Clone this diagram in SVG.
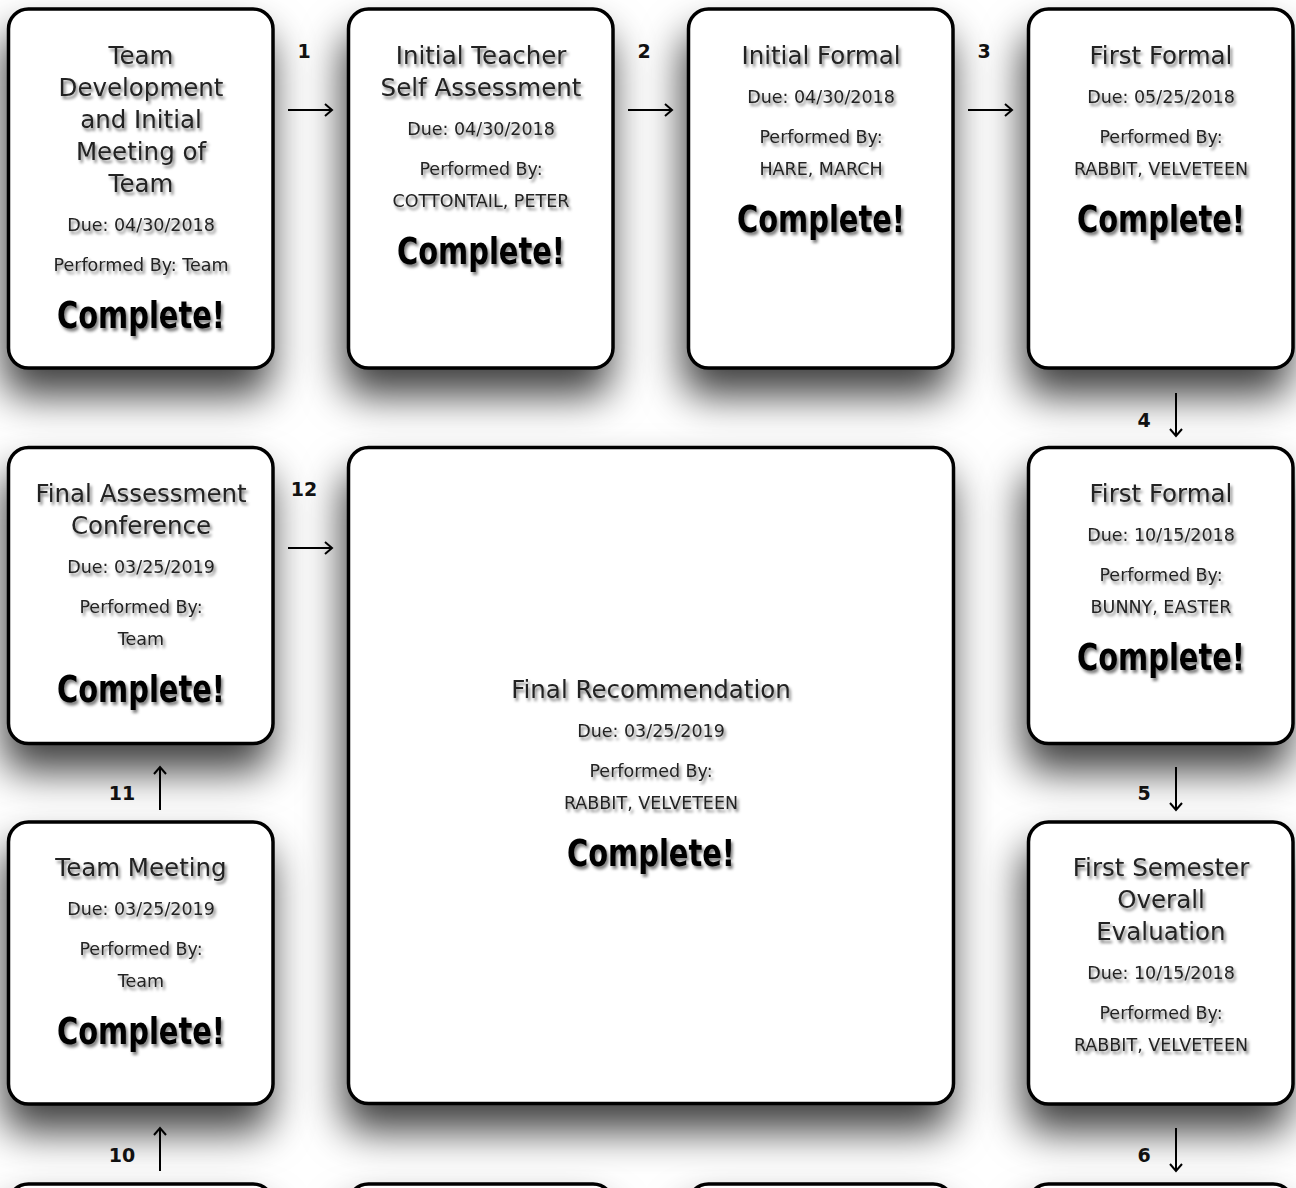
<svg xmlns="http://www.w3.org/2000/svg" width="1296" height="1188" viewBox="0 0 1296 1188">
<defs>
<filter id="cardShadow" x="-35%" y="-35%" width="170%" height="190%">
<feDropShadow dx="-4" dy="26" stdDeviation="20" flood-color="#000" flood-opacity="0.75"/>
</filter>
<filter id="txtShadow" x="-10%" y="-30%" width="120%" height="180%">
<feGaussianBlur in="SourceAlpha" stdDeviation="1.4" result="b"/>
<feOffset in="b" dx="2" dy="3" result="o"/>
<feFlood flood-color="#000" flood-opacity="0.5"/>
<feComposite in2="o" operator="in" result="s"/>
<feMerge><feMergeNode in="s"/><feMergeNode in="SourceGraphic"/></feMerge>
</filter>
<marker id="head" markerWidth="12" markerHeight="14" refX="10" refY="7" orient="auto" markerUnits="userSpaceOnUse">
<path d="M3,1 L10,7 L3,13" fill="none" stroke="#000" stroke-width="2"/>
</marker>
<style>
.card{fill:#fff;stroke:#000;stroke-width:3.5;filter:url(#cardShadow)}
.t{font-family:"DejaVu Sans","Liberation Sans",sans-serif;fill:#222;text-anchor:middle;filter:url(#txtShadow)}
.title{font-size:24.5px}
.det{font-size:17.5px}
.done{font-family:"DejaVu Sans Condensed","Liberation Sans Narrow",sans-serif;font-weight:bold;font-size:38px;fill:#000;text-anchor:middle;filter:url(#txtShadow)}
.num{font-family:"DejaVu Sans","Liberation Sans",sans-serif;font-weight:bold;font-size:19px;fill:#111;text-anchor:middle}
.arr{stroke:#000;stroke-width:2;fill:none;marker-end:url(#head)}
</style>
</defs>
<rect width="1296" height="1188" fill="#fff"/>

<g id="node-bottom1"><rect class="card" x="8.5" y="1184" width="264.5" height="300" rx="20"/></g>
<g id="node-bottom2"><rect class="card" x="348.5" y="1184" width="264.5" height="300" rx="20"/></g>
<g id="node-bottom3"><rect class="card" x="688.5" y="1184" width="264.5" height="300" rx="20"/></g>
<g id="node-bottom4"><rect class="card" x="1028.5" y="1184" width="264.5" height="300" rx="20"/></g>

<g id="node-team-meeting">
<rect class="card" x="8.5" y="822" width="264.5" height="282" rx="20"/>
<text class="t title" x="141" y="876">Team Meeting</text>
<text class="t det" x="141" y="915">Due: 03/25/2019</text>
<text class="t det" x="141" y="955">Performed By:</text>
<text class="t det" x="141" y="987">Team</text>
<text class="done" x="141" y="1044" textLength="168" lengthAdjust="spacingAndGlyphs">Complete!</text>
</g>

<g id="node-first-semester">
<rect class="card" x="1028.5" y="822" width="264.5" height="282" rx="20"/>
<text class="t title" x="1161" y="876">First Semester</text>
<text class="t title" x="1161" y="908">Overall</text>
<text class="t title" x="1161" y="940">Evaluation</text>
<text class="t det" x="1161" y="979">Due: 10/15/2018</text>
<text class="t det" x="1161" y="1019">Performed By:</text>
<text class="t det" x="1161" y="1051">RABBIT, VELVETEEN</text>
</g>

<g id="node-final-assessment">
<rect class="card" x="8.5" y="447.5" width="264.5" height="296" rx="20"/>
<text class="t title" x="141" y="502">Final Assessment</text>
<text class="t title" x="141" y="534">Conference</text>
<text class="t det" x="141" y="573">Due: 03/25/2019</text>
<text class="t det" x="141" y="613">Performed By:</text>
<text class="t det" x="141" y="645">Team</text>
<text class="done" x="141" y="702" textLength="168" lengthAdjust="spacingAndGlyphs">Complete!</text>
</g>

<g id="node-final-recommendation">
<rect class="card" x="348.5" y="447.5" width="605" height="656" rx="20"/>
<text class="t title" x="651" y="698">Final Recommendation</text>
<text class="t det" x="651" y="737">Due: 03/25/2019</text>
<text class="t det" x="651" y="777">Performed By:</text>
<text class="t det" x="651" y="809">RABBIT, VELVETEEN</text>
<text class="done" x="651" y="866" textLength="168" lengthAdjust="spacingAndGlyphs">Complete!</text>
</g>

<g id="node-first-formal-2">
<rect class="card" x="1028.5" y="447.5" width="264.5" height="296" rx="20"/>
<text class="t title" x="1161" y="502">First Formal</text>
<text class="t det" x="1161" y="541">Due: 10/15/2018</text>
<text class="t det" x="1161" y="581">Performed By:</text>
<text class="t det" x="1161" y="613">BUNNY, EASTER</text>
<text class="done" x="1161" y="670" textLength="168" lengthAdjust="spacingAndGlyphs">Complete!</text>
</g>

<g id="node-team-development">
<rect class="card" x="8.5" y="9" width="264.5" height="359" rx="20"/>
<text class="t title" x="141" y="64">Team</text>
<text class="t title" x="141" y="96">Development</text>
<text class="t title" x="141" y="128">and Initial</text>
<text class="t title" x="141" y="160">Meeting of</text>
<text class="t title" x="141" y="192">Team</text>
<text class="t det" x="141" y="231">Due: 04/30/2018</text>
<text class="t det" x="141" y="271">Performed By: Team</text>
<text class="done" x="141" y="328" textLength="168" lengthAdjust="spacingAndGlyphs">Complete!</text>
</g>

<g id="node-initial-teacher">
<rect class="card" x="348.5" y="9" width="264.5" height="359" rx="20"/>
<text class="t title" x="481" y="64">Initial Teacher</text>
<text class="t title" x="481" y="96">Self Assessment</text>
<text class="t det" x="481" y="135">Due: 04/30/2018</text>
<text class="t det" x="481" y="175">Performed By:</text>
<text class="t det" x="481" y="207">COTTONTAIL, PETER</text>
<text class="done" x="481" y="264" textLength="168" lengthAdjust="spacingAndGlyphs">Complete!</text>
</g>

<g id="node-initial-formal">
<rect class="card" x="688.5" y="9" width="264.5" height="359" rx="20"/>
<text class="t title" x="821" y="64">Initial Formal</text>
<text class="t det" x="821" y="103">Due: 04/30/2018</text>
<text class="t det" x="821" y="143">Performed By:</text>
<text class="t det" x="821" y="175">HARE, MARCH</text>
<text class="done" x="821" y="232" textLength="168" lengthAdjust="spacingAndGlyphs">Complete!</text>
</g>

<g id="node-first-formal-1">
<rect class="card" x="1028.5" y="9" width="264.5" height="359" rx="20"/>
<text class="t title" x="1161" y="64">First Formal</text>
<text class="t det" x="1161" y="103">Due: 05/25/2018</text>
<text class="t det" x="1161" y="143">Performed By:</text>
<text class="t det" x="1161" y="175">RABBIT, VELVETEEN</text>
<text class="done" x="1161" y="232" textLength="168" lengthAdjust="spacingAndGlyphs">Complete!</text>
</g>

<g id="connectors">
<path class="arr" d="M288,110 H332"/>
<path class="arr" d="M628,110 H672"/>
<path class="arr" d="M968,110 H1012"/>
<path class="arr" d="M288,548 H332"/>
<path class="arr" d="M1176,393 V436"/>
<path class="arr" d="M1176,767 V810"/>
<path class="arr" d="M1176,1128 V1171"/>
<path class="arr" d="M160,810 V767"/>
<path class="arr" d="M160,1171 V1128"/>
<text class="num" x="304" y="58">1</text>
<text class="num" x="644" y="58">2</text>
<text class="num" x="984" y="58">3</text>
<text class="num" x="1144" y="427">4</text>
<text class="num" x="1144" y="800">5</text>
<text class="num" x="1144" y="1162">6</text>
<text class="num" x="122" y="1162">10</text>
<text class="num" x="122" y="800">11</text>
<text class="num" x="304" y="496">12</text>
</g>
</svg>
